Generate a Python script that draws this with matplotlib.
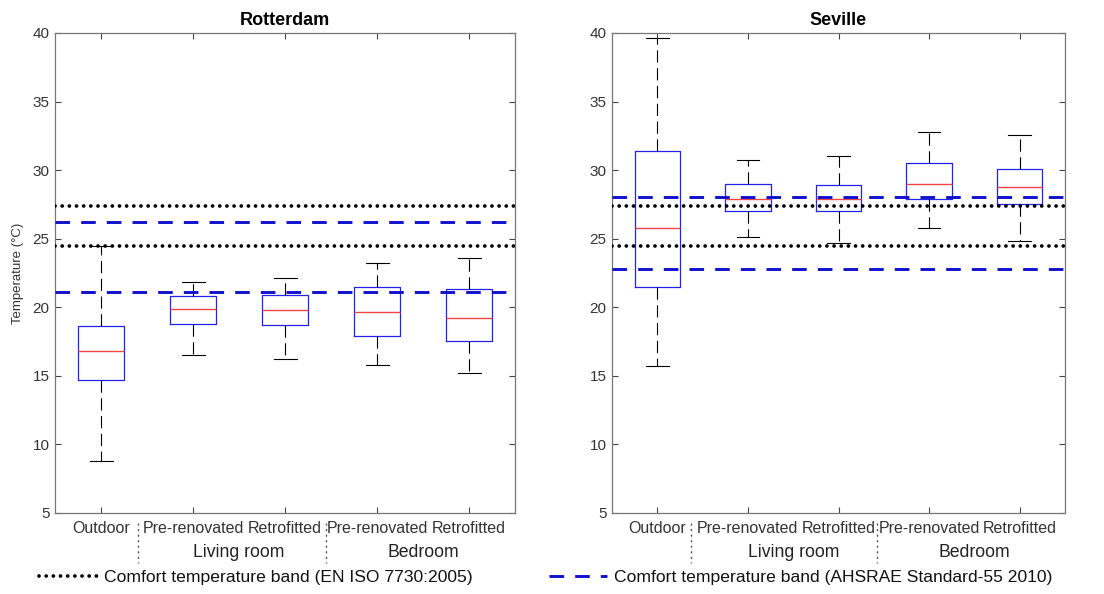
import matplotlib
matplotlib.use("Agg")
import matplotlib.pyplot as plt
from matplotlib.lines import Line2D
import matplotlib.transforms as mtransforms

plt.rcParams['font.family'] = ['Liberation Sans', 'DejaVu Sans']

categories = ["Outdoor", "Pre-renovated", "Retrofitted", "Pre-renovated", "Retrofitted"]
groups = ["Living room", "Bedroom"]
cities = ["Rotterdam", "Seville"]

# box statistics: lower whisker, Q1, median, Q3, upper whisker
rot_whislo = [8.8, 16.5, 16.2, 15.8, 15.2]
rot_q1 = [14.7, 18.75, 18.7, 17.9, 17.55]
rot_med = [16.8, 19.85, 19.8, 19.65, 19.2]
rot_q3 = [18.65, 20.85, 20.9, 21.45, 21.35]
rot_whishi = [24.45, 21.85, 22.1, 23.2, 23.6]

sev_whislo = [15.75, 25.1, 24.7, 25.8, 24.85]
sev_q1 = [21.5, 27.05, 27.0, 27.9, 27.55]
sev_med = [25.75, 27.9, 27.9, 29.0, 28.75]
sev_q3 = [31.4, 29.0, 28.95, 30.55, 30.1]
sev_whishi = [39.6, 30.75, 31.0, 32.75, 32.55]

# comfort bands
rot_iso = [24.45, 27.4]
rot_ashrae = [21.1, 26.25]
sev_iso = [24.45, 27.4]
sev_ashrae = [22.8, 28.05]

fig = plt.figure(figsize=(11.04, 5.94), dpi=100)
ax1 = fig.add_axes([55/1104, 1-513/594, 460/1104, 480/594])
ax2 = fig.add_axes([612/1104, 1-513/594, 453/1104, 480/594])

axis_col = '#444444'
DOT = (0, (0.01, 1.9))
DASH = (0, (5, 3.8))

def draw(ax, title, lo, q1, med, q3, hi, iso, ashrae, ylabel, seps):
    stats = []
    for i in range(len(categories)):
        stats.append(dict(whislo=lo[i], q1=q1[i], med=med[i], q3=q3[i], whishi=hi[i], fliers=[]))
    ax.bxp(stats, positions=range(1, 6), widths=0.5, capwidths=0.25, showfliers=False,
           boxprops=dict(color='#2222ee', linewidth=0.9),
           medianprops=dict(color='#ee4444', linewidth=1.0),
           whiskerprops=dict(color='black', linewidth=0.8, linestyle=(0, (11, 5))),
           capprops=dict(color='black', linewidth=0.8))
    for v in iso:
        ax.axhline(v, color='black', linewidth=2.7, linestyle=DOT,
                   dash_capstyle='round', zorder=5)
    for v in ashrae:
        ax.axhline(v, color='#1010cc', linewidth=2.1, linestyle=DASH, zorder=5)
    ax.set_xlim(0.5, 5.5)
    ax.set_ylim(5, 40)
    ax.set_yticks(range(5, 41, 5))
    ax.set_xticks(range(1, 6))
    ax.set_xticklabels(categories, fontsize=11.5, color='#333333')
    ax.tick_params(axis='both', direction='in', top=True, right=True, color=axis_col,
                   length=4, width=0.8)
    ax.tick_params(axis='y', labelsize=11, labelcolor='#333333', pad=4)
    ax.tick_params(axis='x', pad=6)
    for s in ax.spines.values():
        s.set_color('#777777')
        s.set_linewidth(0.9)
    ax.set_title(title, fontsize=13, fontweight='bold', pad=6)
    if ylabel:
        ax.set_ylabel(ylabel, fontsize=9.5, color='#333333', labelpad=6)
    trans = mtransforms.blended_transform_factory(ax.transData, ax.transAxes)
    ax.text(2.5, -0.083, groups[0], transform=trans, ha='center', va='center',
            fontsize=12.7, color='#222222')
    ax.text(4.5, -0.083, groups[1], transform=trans, ha='center', va='center',
            fontsize=12.7, color='#222222')
    for xs in seps:
        ax.plot([xs, xs], [-0.02, -0.105], transform=trans, clip_on=False,
                color='#555555', linewidth=1.0, linestyle=(0, (1.5, 2.5)))

draw(ax1, cities[0], rot_whislo, rot_q1, rot_med, rot_q3, rot_whishi, rot_iso, rot_ashrae,
     'Temperature (\u00b0C)', [1.40, 3.45])
draw(ax2, cities[1], sev_whislo, sev_q1, sev_med, sev_q3, sev_whishi, sev_iso, sev_ashrae,
     None, [1.37, 3.42])

h1 = Line2D([], [], color='black', linewidth=2.7, linestyle=DOT, dash_capstyle='round')
h2 = Line2D([], [], color='#1010cc', linewidth=2.1, linestyle=DASH)
fig.legend([h1], ['Comfort temperature band (EN ISO 7730:2005)'], loc='center left',
           bbox_to_anchor=(23/1104, 1-577/594), frameon=False, fontsize=12.6,
           handlelength=3.3, handletextpad=0.45, labelcolor='#111111')
fig.legend([h2], ['Comfort temperature band (AHSRAE Standard-55 2010)'], loc='center left',
           bbox_to_anchor=(533/1104, 1-577/594), frameon=False, fontsize=12.6,
           handlelength=3.3, handletextpad=0.45, labelcolor='#111111')

fig.savefig('out.png', dpi=100)
